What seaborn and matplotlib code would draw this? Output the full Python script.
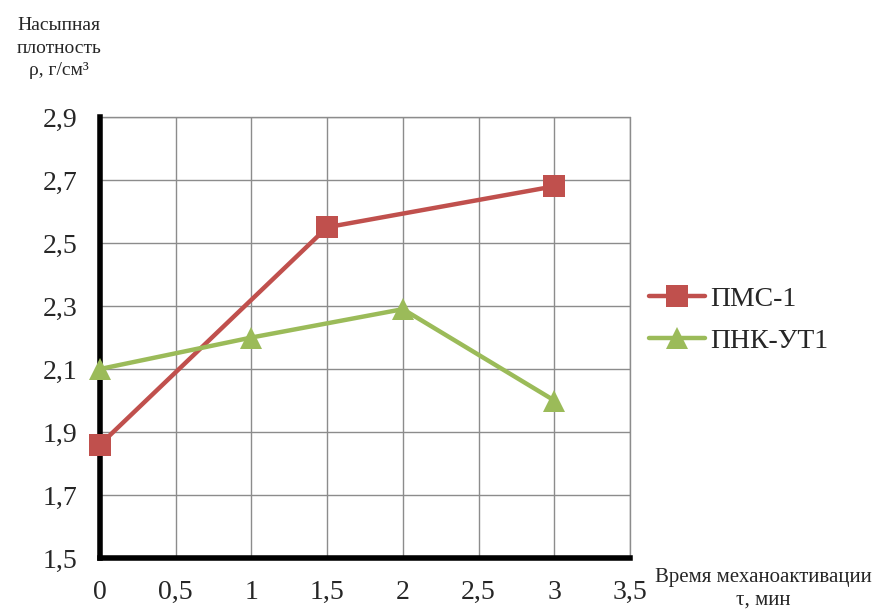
import matplotlib
matplotlib.use("Agg")
import matplotlib.pyplot as plt
import seaborn as sns
import pandas as pd

# data
pms_time = [0, 1.5, 3]
pms_density = [1.86, 2.55, 2.68]
pnk_time = [0, 1, 2, 3]
pnk_density = [2.10, 2.20, 2.29, 2.00]

x_ticks = [0, 0.5, 1, 1.5, 2, 2.5, 3, 3.5]
x_tick_labels = ['0', '0,5', '1', '1,5', '2', '2,5', '3', '3,5']
y_ticks = [1.5, 1.7, 1.9, 2.1, 2.3, 2.5, 2.7, 2.9]
y_tick_labels = ['1,5', '1,7', '1,9', '2,1', '2,3', '2,5', '2,7', '2,9']

series_names = ['ПМС-1', 'ПНК-УТ1']
colors = ['#C0504D', '#9BBB59']
markers = ['s', '^']

df = pd.concat([
    pd.DataFrame({'t': pms_time, 'rho': pms_density, 'series': series_names[0]}),
    pd.DataFrame({'t': pnk_time, 'rho': pnk_density, 'series': series_names[1]}),
])

sns.set_style('white')
plt.rcParams['font.family'] = ['Liberation Serif', 'DejaVu Serif']

fig = plt.figure(figsize=(8.83, 6.09), dpi=100, facecolor='white')
ax = fig.add_axes([0.1133, 0.0837, 0.6002, 0.7242])

for name, color, marker in zip(series_names, colors, markers):
    sub = df[df['series'] == name]
    sns.lineplot(data=sub, x='t', y='rho', ax=ax, color=color, marker=marker,
                 markersize=16, markeredgewidth=0, linewidth=3.2, label=name,
                 clip_on=False, zorder=3)

ax.set_xlim(0, 3.5)
ax.set_ylim(1.5, 2.9)
ax.set_xticks(x_ticks)
ax.set_xticklabels(x_tick_labels)
ax.set_yticks(y_ticks)
ax.set_yticklabels(y_tick_labels)
ax.tick_params(axis='both', labelsize=20, length=0)
ax.tick_params(axis='x', pad=16)
ax.tick_params(axis='y', pad=16)
ax.grid(True, color='#8c8c8c', linewidth=1.0)
ax.set_axisbelow(True)
ax.set_xlabel('')
ax.set_ylabel('')

for side in ['top', 'right']:
    ax.spines[side].set_visible(False)
for side in ['left', 'bottom']:
    ax.spines[side].set_color('black')
    ax.spines[side].set_linewidth(4)
ax.plot([3.5, 3.5], [1.5, 2.9], color='#8c8c8c', lw=1.0, clip_on=False, zorder=1)
ax.plot([0, 3.5], [2.9, 2.9], color='#8c8c8c', lw=1.0, clip_on=False, zorder=1)

ax.get_legend().remove()
handles, labels = ax.get_legend_handles_labels()
fig.legend(handles, labels, loc='center left', bbox_to_anchor=(0.707, 0.4745),
           frameon=False, fontsize=20, handlelength=2.0, handletextpad=0.2,
           labelspacing=0.6)

fig.text(0.067, 0.921, 'Насыпная\nплотность\nρ, г/см³', ha='center', va='center',
         fontsize=14, linespacing=1.45)
fig.text(0.864, 0.033, 'Время механоактивации\nτ, мин', ha='center', va='center',
         fontsize=15, linespacing=1.3)

fig.savefig('out.png', dpi=100, facecolor='white')
